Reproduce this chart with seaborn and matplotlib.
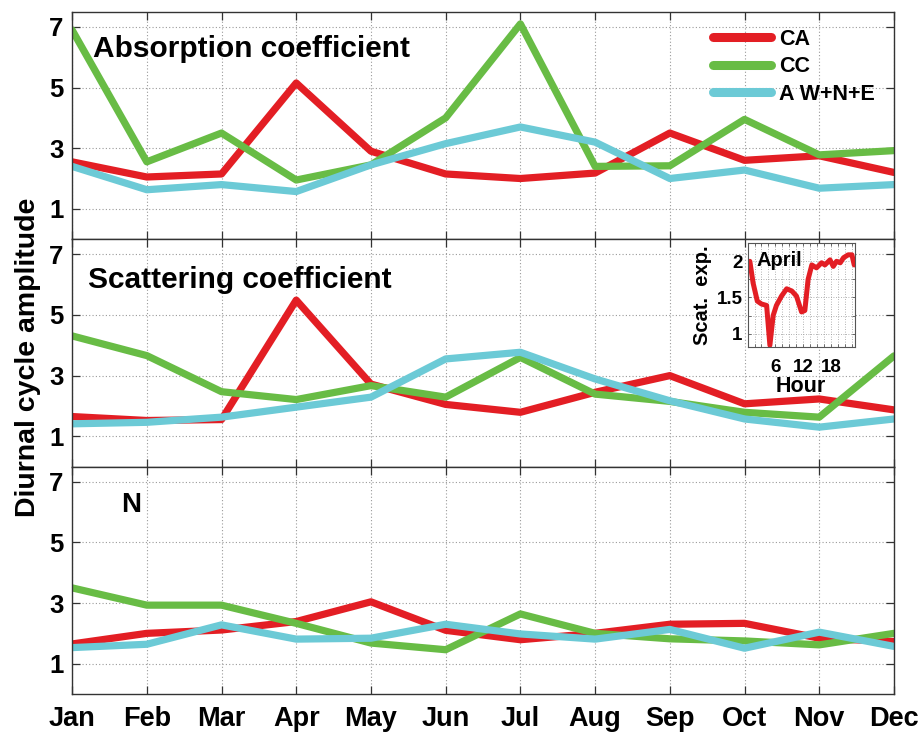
import numpy as np
import pandas as pd
import matplotlib
matplotlib.use("Agg")
import matplotlib.pyplot as plt
from matplotlib.ticker import MultipleLocator
from matplotlib.lines import Line2D
import seaborn as sns

months = ["Jan", "Feb", "Mar", "Apr", "May", "Jun", "Jul", "Aug", "Sep", "Oct", "Nov", "Dec"]
series_names = ["CA", "CC", "A W+N+E"]

abs_CA = [2.55, 2.05, 2.15, 5.15, 2.9, 2.15, 2.0, 2.18, 3.5, 2.6, 2.75, 2.2]
abs_CC = [6.9, 2.55, 3.5, 1.95, 2.45, 4.0, 7.1, 2.4, 2.42, 3.95, 2.78, 2.92]
abs_AW = [2.4, 1.63, 1.8, 1.57, 2.45, 3.15, 3.7, 3.2, 2.0, 2.28, 1.68, 1.8]

sca_CA = [1.65, 1.52, 1.55, 5.49, 2.72, 2.05, 1.79, 2.45, 3.0, 2.07, 2.23, 1.87]
sca_CC = [4.31, 3.66, 2.47, 2.21, 2.67, 2.29, 3.6, 2.39, 2.15, 1.79, 1.63, 3.65]
sca_AW = [1.41, 1.46, 1.63, 1.96, 2.29, 3.55, 3.77, 2.89, 2.17, 1.57, 1.3, 1.57]

n_CA = [1.65, 2.0, 2.11, 2.39, 3.04, 2.1, 1.79, 2.0, 2.3, 2.33, 1.84, 1.73]
n_CC = [3.5, 2.93, 2.93, 2.33, 1.68, 1.46, 2.64, 2.0, 1.82, 1.75, 1.62, 2.0]
n_AW = [1.53, 1.64, 2.28, 1.81, 1.84, 2.3, 1.98, 1.81, 2.13, 1.51, 2.04, 1.57]

panel_titles = ["Absorption coefficient", "Scattering coefficient", "N"]

april_hour = [0.5, 1.2, 2.1, 3.0, 4.1, 4.8, 5.5, 6.2, 7.3, 8.4, 9.5, 10.5, 11.6, 12.3,
              13.0, 13.8, 14.8, 15.9, 16.6, 17.7, 18.4, 19.1, 19.9, 20.6, 21.6, 22.4, 22.9]
april_scat = [2.0, 1.70, 1.45, 1.41, 1.39, 0.84, 1.25, 1.39, 1.52, 1.62, 1.59, 1.52, 1.30, 1.32,
              1.75, 1.95, 1.91, 1.98, 1.95, 2.02, 1.93, 2.0, 1.98, 2.05, 2.09, 2.09, 1.95]

colors = {"CA": "#E31E24", "CC": "#68BC45", "A W+N+E": "#6CCAD6"}

sns.set_style("ticks")
plt.rcParams["font.family"] = ["Liberation Sans", "DejaVu Sans"]
plt.rcParams["font.weight"] = "bold"
plt.rcParams["text.color"] = "black"
plt.rcParams["axes.labelcolor"] = "black"

fig = plt.figure(figsize=(9.24, 7.34), dpi=100)
left, right, top, bottom = 0.078, 0.9675, 0.984, 0.0545
h = (top - bottom) / 3
panels = [(abs_CA, abs_CC, abs_AW), (sca_CA, sca_CC, sca_AW), (n_CA, n_CC, n_AW)]
axes = []
for i, (a, c, w) in enumerate(panels):
    ax = fig.add_axes([left, top - (i + 1) * h, right - left, h])
    axes.append(ax)
    df = pd.DataFrame({
        "m": list(range(12)) * 3,
        "v": a + c + w,
        "series": [series_names[0]] * 12 + [series_names[1]] * 12 + [series_names[2]] * 12,
    })
    sns.lineplot(data=df, x="m", y="v", hue="series", palette=colors, linewidth=5.2,
                 legend=False, ax=ax, sort=False)
    ax.set_xlim(0, 11)
    ax.set_ylim(0, 7.5)
    ax.set_yticks([1, 3, 5, 7])
    ax.set_xticks(range(12))
    ax.grid(True, linestyle=(0, (1, 2)), color="#9a9a9a", linewidth=0.8)
    ax.tick_params(direction="in", top=True, right=True, length=6, width=0.9,
                   colors="#333333", labelcolor="black", labelsize=18.5, pad=6)
    for s in ax.spines.values():
        s.set_color("#333333")
        s.set_linewidth(1.0)
    ax.set_xlabel("")
    ax.set_ylabel("")
    for lab in ax.get_yticklabels():
        lab.set_fontweight("bold")
    if i < 2:
        ax.set_xticklabels([])
    else:
        ax.set_xticklabels(months, fontsize=19.5, fontweight="bold")
        ax.tick_params(axis="x", pad=9)

axes[0].text(0.026, 0.835, panel_titles[0], transform=axes[0].transAxes, fontsize=21.5,
             fontweight="bold", va="center", ha="left")
axes[1].text(0.019, 0.82, panel_titles[1], transform=axes[1].transAxes, fontsize=21.5,
             fontweight="bold", va="center", ha="left")
axes[2].text(0.06, 0.83, panel_titles[2], transform=axes[2].transAxes, fontsize=20,
             fontweight="bold", va="center", ha="left")

handles = [Line2D([0], [0], color=colors[n], lw=6.5) for n in series_names]
leg = axes[0].legend(handles, series_names, loc="upper right", bbox_to_anchor=(1.0, 1.01),
                     frameon=False, prop={"weight": "bold", "size": 15.5}, handlelength=2.7,
                     handletextpad=0.35, labelspacing=0.3)

fig.text(0.03, 0.513, "Diurnal cycle amplitude", rotation=90, fontsize=20.5, fontweight="bold",
         ha="center", va="center")

# inset
ins = fig.add_axes([0.809, 0.5277, 0.116, 0.1409])
sns.lineplot(x=april_hour, y=april_scat, color=colors["CA"], linewidth=3.6, ax=ins, sort=False)
ins.set_xlim(0, 23)
ins.set_ylim(0.82, 2.25)
ins.set_xticks([6, 12, 18])
ins.set_yticks([1, 1.5, 2])
ins.set_yticklabels(["1", "1.5", "2"])
ins.xaxis.set_minor_locator(MultipleLocator(1.5))
ins.yaxis.set_minor_locator(MultipleLocator(0.25))
ins.grid(True, which="both", linestyle=(0, (1, 2)), color="#9a9a9a", linewidth=0.6)
ins.tick_params(which="both", direction="in", top=True, right=True, length=2, width=0.6,
                colors="#555555", labelcolor="black", labelsize=13.5)
ins.tick_params(axis="x", pad=9)
for lab in ins.get_xticklabels() + ins.get_yticklabels():
    lab.set_fontweight("bold")
for s in ins.spines.values():
    s.set_color("#555555")
    s.set_linewidth(0.8)
ins.set_xlabel("Hour", fontsize=15.5, fontweight="bold", labelpad=0)
ins.set_ylabel("Scat.  exp.", fontsize=14.5, fontweight="bold", labelpad=3)
ins.text(0.08, 0.83, "April", transform=ins.transAxes, fontsize=14.5, fontweight="bold",
         ha="left", va="center")

fig.savefig("out.png", dpi=100)
